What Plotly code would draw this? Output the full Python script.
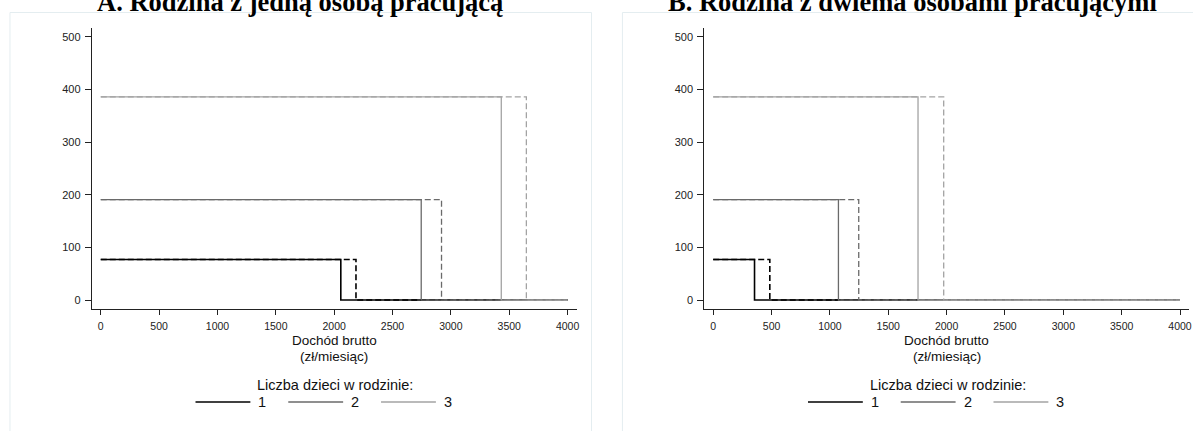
import plotly.graph_objects as go

# ---- data ----
children = ["1", "2", "3"]
levels = [77, 191, 386]                       # benefit level (zł/month)
# income thresholds where the benefit drops to 0 (solid = current, dashed = alternative)
panelA_solid = [2057, 2746, 3432]
panelA_dash = [2187, 2920, 3647]
panelB_solid = [354, 1073, 1755]
panelB_dash = [485, 1247, 1975]
x_max = 4000
x_ticks = [0, 500, 1000, 1500, 2000, 2500, 3000, 3500, 4000]
y_ticks = [0, 100, 200, 300, 400, 500]

titles = ["A. Rodzina z jedną osobą pracującą", "B. Rodzina z dwiema osobami pracującymi"]
x_title_lines = ["Dochód brutto", "(zł/miesiąc)"]
legend_title = "Liczba dzieci w rodzinie:"

colors = ["#000000", "#6a6a6a", "#a3a3a3"]
widths = [1.6, 1.3, 1.3]

SANS = "Arial, Liberation Sans, sans-serif"
W, H = 1193, 431
fig = go.Figure()

panels = [
    dict(solid=panelA_solid, dash=panelA_dash, xa="x", ya="y", l=92, r=578, frame=(10, 593)),
    dict(solid=panelB_solid, dash=panelB_dash, xa="x2", ya="y2", l=706, r=1192, frame=(624, 1207)),
]

for p in panels:
    for i, lab in enumerate(children):
        for kind in ("dash", "solid"):
            thr = p[kind][i]
            fig.add_trace(go.Scatter(
                x=[0, thr, x_max], y=[levels[i], 0, 0],
                mode="lines", line_shape="hv",
                line=dict(color=colors[i], width=widths[i],
                          dash="solid" if kind == "solid" else "6px,3px"),
                name=lab, showlegend=False,
                xaxis=p["xa"], yaxis=p["ya"], hoverinfo="skip",
            ))

ydom = [1 - 309 / H, 1 - 28 / H]

axis_common = dict(
    showgrid=False, zeroline=False, showline=True, linecolor="#222",
    linewidth=1, ticks="outside", tickwidth=1, tickcolor="#222",
)
xcommon = dict(axis_common, range=[-77, 4077], tickvals=x_ticks, ticklen=5,
               ticklabelstandoff=2, tickfont=dict(family=SANS, size=10.5, color="#222"))
ycommon = dict(axis_common, range=[-17, 517], tickvals=y_ticks, ticklen=6,
               ticklabelstandoff=2, tickfont=dict(family=SANS, size=11, color="#222"))

fig.update_layout(
    width=W, height=H, margin=dict(l=0, r=0, t=0, b=0),
    paper_bgcolor="white", plot_bgcolor="white", showlegend=False,
    xaxis=dict(xcommon, domain=[92 / W, 578 / W], anchor="y"),
    yaxis=dict(ycommon, domain=ydom, anchor="x"),
    xaxis2=dict(xcommon, domain=[706 / W, 1192 / W], anchor="y2"),
    yaxis2=dict(ycommon, domain=ydom, anchor="x2"),
    font=dict(family=SANS, color="#111"),
)


def px(x):
    return x / W


def py(y):
    return 1 - y / H


for k, p in enumerate(panels):
    c = (p["l"] + p["r"]) / 2
    x0, x1 = p["frame"]
    # graph-region frame
    fig.add_shape(type="rect", xref="paper", yref="paper",
                  x0=px(x0), x1=px(x1), y0=-0.02, y1=py(12.5),
                  line=dict(color="#e4edf0", width=1), layer="below")
    # panel title
    fig.add_annotation(text="<b>%s</b>" % titles[k], xref="paper", yref="paper",
                       x=px((x0 + x1) / 2 - 1), y=py(19), xanchor="center", yanchor="bottom",
                       showarrow=False,
                       font=dict(family="Liberation Serif, Times New Roman, serif",
                                 size=26.5, color="#000"))
    # x-axis title (two tight lines)
    for j, (txt, yy) in enumerate(zip(x_title_lines, [340.5, 356])):
        fig.add_annotation(text=txt, xref="paper", yref="paper", x=px(c), y=py(yy),
                           xanchor="center", yanchor="middle", showarrow=False, borderpad=0,
                           font=dict(family=SANS, size=13.5, color="#111"))
    # legend
    fig.add_annotation(text=legend_title, xref="paper", yref="paper", x=px(c + 1), y=py(385),
                       xanchor="center", yanchor="middle", showarrow=False,
                       font=dict(family=SANS, size=14.5, color="#111"))
    for i, lab in enumerate(children):
        lx0 = c - 139 + 93 * i
        fig.add_shape(type="line", xref="paper", yref="paper",
                      x0=px(lx0), x1=px(lx0 + 55), y0=py(402), y1=py(402),
                      line=dict(color=colors[i], width=widths[i]))
        fig.add_annotation(text=lab, xref="paper", yref="paper", x=px(lx0 + 67), y=py(402),
                           xanchor="center", yanchor="middle", showarrow=False,
                           font=dict(family=SANS, size=14.5, color="#111"))

fig.write_html("out.html")
